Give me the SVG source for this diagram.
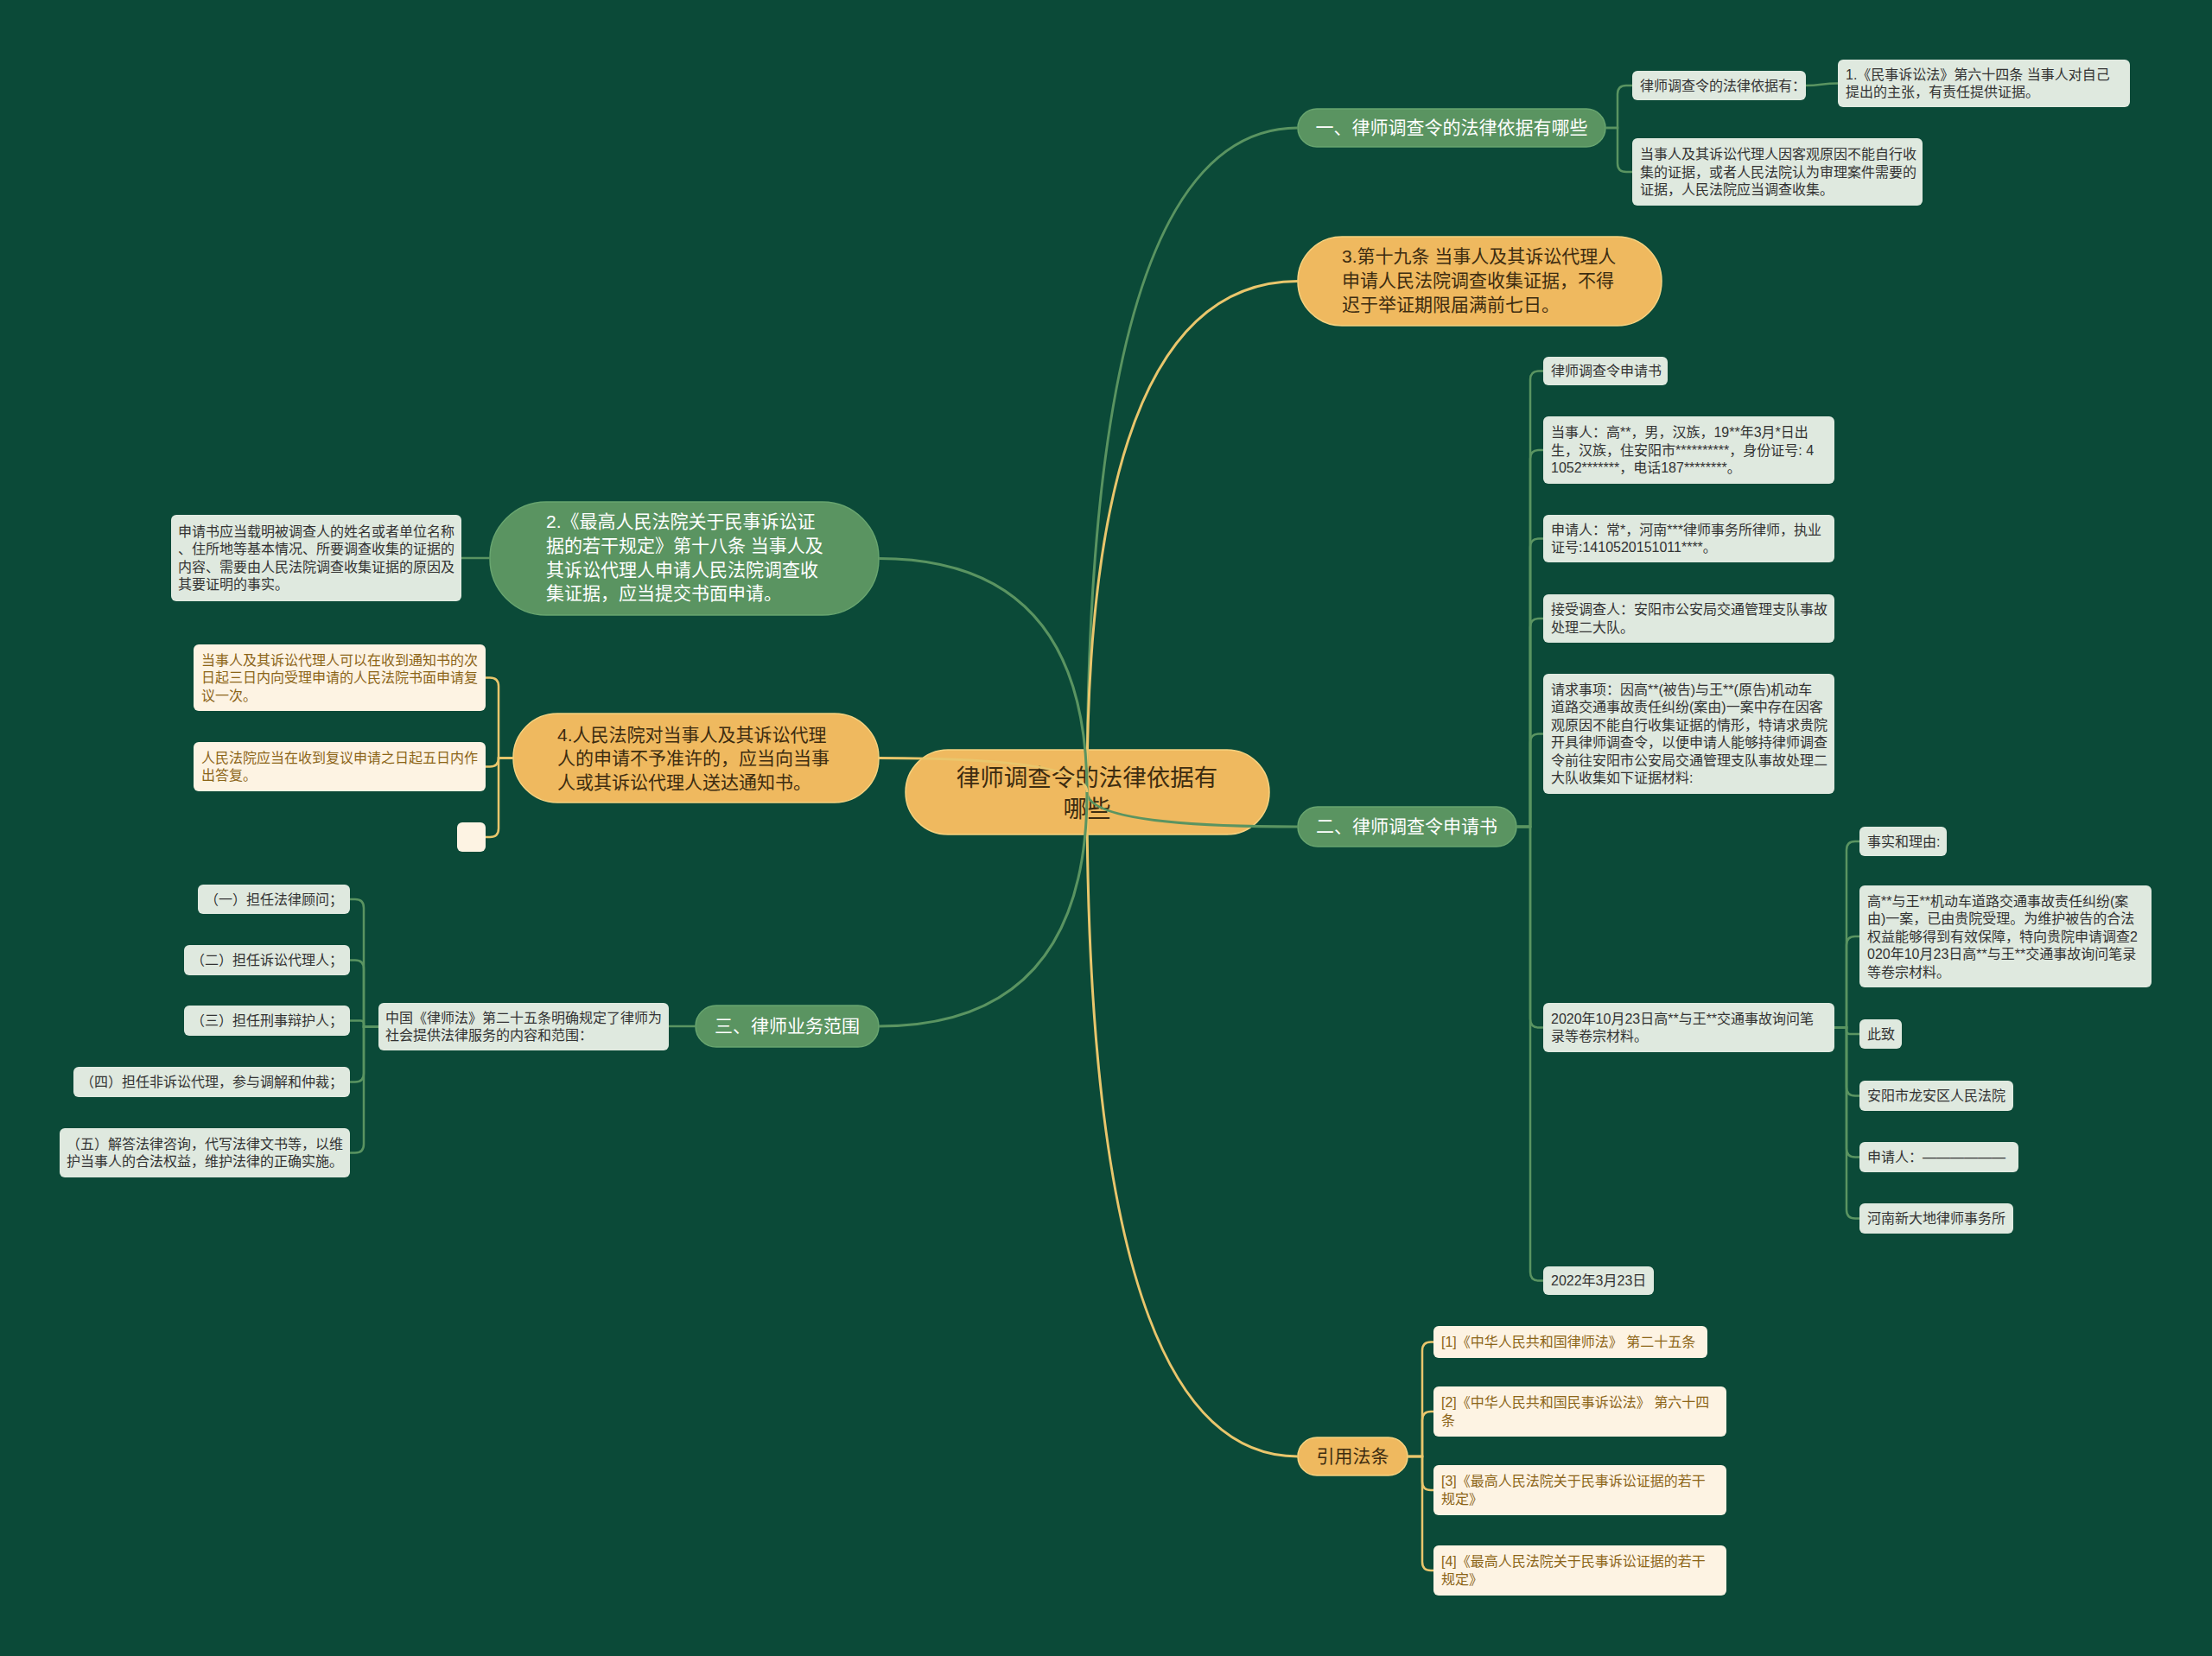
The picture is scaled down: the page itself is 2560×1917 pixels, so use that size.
<svg xmlns="http://www.w3.org/2000/svg" width="2560" height="1917" viewBox="0 0 2560 1917">
<style>
text{font-family:"Liberation Sans","Noto Sans CJK SC",sans-serif}
.bg{fill:#0b4a38}
.root{fill:#efb95f;stroke:#f6d27f;stroke-width:1.5}
.gp{fill:#5a9461;stroke:#68a56f;stroke-width:1.5}
.op{fill:#efb95f;stroke:#f6d27f;stroke-width:1.5}
.lb{fill:#dfe9df}
.cb{fill:#fdf3e3}
.tr{font-size:27.5px;fill:#3d2c10;text-anchor:middle}
.tw{font-size:21px;fill:#ffffff}
.to{font-size:21px;fill:#3d2c10}
.tl{font-size:16px;fill:#333333}
.tc{font-size:16px;fill:#8c6518}
.mid{text-anchor:middle}
.cg{fill:none;stroke:#5a9461;stroke-width:3}
.co{fill:none;stroke:#e9c66c;stroke-width:3}
.sg{fill:none;stroke:#5a9461;stroke-width:2.5}
.so{fill:none;stroke:#e9c66c;stroke-width:2.5}
</style>
<rect class="bg" x="0" y="0" width="2560" height="1917"/>
<g id="nodes">
<g id="root"><rect class="root" x="1048" y="868" width="421" height="98" rx="49"/><text class="tr" x="1258" y="910">律师调查令的法律依据有</text><text class="tr" x="1258" y="946">哪些</text></g>

<g id="b1"><rect class="gp" x="1502" y="126" width="356" height="44" rx="22"/><text class="tw mid" x="1680" y="155">一、律师调查令的法律依据有哪些</text></g>
<g id="a1"><rect class="lb" x="1889" y="82" width="201" height="34" rx="6"/><text class="tl" x="1898" y="104.5">律师调查令的法律依据有：</text></g>
<g id="a2"><rect class="lb" x="2127" y="69" width="338" height="55" rx="6"/><text class="tl" x="2136" y="92">1.《民事诉讼法》第六十四条 当事人对自己</text><text class="tl" x="2136" y="112">提出的主张，有责任提供证据。</text></g>
<g id="a3"><rect class="lb" x="1889" y="160" width="336" height="78" rx="6"/><text class="tl" x="1898" y="184">当事人及其诉讼代理人因客观原因不能自行收</text><text class="tl" x="1898" y="204.5">集的证据，或者人民法院认为审理案件需要的</text><text class="tl" x="1898" y="225">证据，人民法院应当调查收集。</text></g>

<g id="b3"><rect class="op" x="1502" y="274" width="421" height="103" rx="51"/><text class="to" x="1553" y="304">3.第十九条 当事人及其诉讼代理人</text><text class="to" x="1553" y="332">申请人民法院调查收集证据，不得</text><text class="to" x="1553" y="360">迟于举证期限届满前七日。</text></g>

<g id="b2"><rect class="gp" x="1502" y="934" width="253" height="46" rx="23"/><text class="tw mid" x="1628" y="964">二、律师调查令申请书</text></g>
<g id="c1"><rect class="lb" x="1786" y="413" width="144" height="33" rx="6"/><text class="tl" x="1795" y="435">律师调查令申请书</text></g>
<g id="c2"><rect class="lb" x="1786" y="482" width="337" height="78" rx="6"/><text class="tl" x="1795" y="506">当事人：高**，男，汉族，19**年3月*日出</text><text class="tl" x="1795" y="526.5">生，汉族，住安阳市**********，身份证号: 4</text><text class="tl" x="1795" y="547">1052*******，电话187********。</text></g>
<g id="c3"><rect class="lb" x="1786" y="596" width="337" height="55" rx="6"/><text class="tl" x="1795" y="619">申请人：常*，河南***律师事务所律师，执业</text><text class="tl" x="1795" y="639">证号:1410520151011****。</text></g>
<g id="c4"><rect class="lb" x="1786" y="688" width="337" height="56" rx="6"/><text class="tl" x="1795" y="711">接受调查人：安阳市公安局交通管理支队事故</text><text class="tl" x="1795" y="732">处理二大队。</text></g>
<g id="c5"><rect class="lb" x="1786" y="780" width="337" height="139" rx="6"/><text class="tl" x="1795" y="803.75">请求事项：因高**(被告)与王**(原告)机动车</text><text class="tl" x="1795" y="824.25">道路交通事故责任纠纷(案由)一案中存在因客</text><text class="tl" x="1795" y="844.75">观原因不能自行收集证据的情形，特请求贵院</text><text class="tl" x="1795" y="865.25">开具律师调查令，以便申请人能够持律师调查</text><text class="tl" x="1795" y="885.75">令前往安阳市公安局交通管理支队事故处理二</text><text class="tl" x="1795" y="906.25">大队收集如下证据材料:</text></g>
<g id="c6"><rect class="lb" x="1786" y="1161" width="337" height="57" rx="6"/><text class="tl" x="1795" y="1185">2020年10月23日高**与王**交通事故询问笔</text><text class="tl" x="1795" y="1205">录等卷宗材料。</text></g>
<g id="c7"><rect class="lb" x="1786" y="1466" width="128" height="33" rx="6"/><text class="tl" x="1795" y="1488">2022年3月23日</text></g>
<g id="d1"><rect class="lb" x="2152" y="957" width="101" height="34" rx="6"/><text class="tl" x="2161" y="979.5">事实和理由:</text></g>
<g id="d2"><rect class="lb" x="2152" y="1025" width="338" height="118" rx="6"/><text class="tl" x="2161" y="1048.5">高**与王**机动车道路交通事故责任纠纷(案</text><text class="tl" x="2161" y="1069">由)一案，已由贵院受理。为维护被告的合法</text><text class="tl" x="2161" y="1089.5">权益能够得到有效保障，特向贵院申请调查2</text><text class="tl" x="2161" y="1110">020年10月23日高**与王**交通事故询问笔录</text><text class="tl" x="2161" y="1130.5">等卷宗材料。</text></g>
<g id="d3"><rect class="lb" x="2152" y="1180" width="49" height="34" rx="6"/><text class="tl" x="2161" y="1202.5">此致</text></g>
<g id="d4"><rect class="lb" x="2152" y="1251" width="178" height="35" rx="6"/><text class="tl" x="2161" y="1274">安阳市龙安区人民法院</text></g>
<g id="d5"><rect class="lb" x="2152" y="1322" width="184" height="35" rx="6"/><text class="tl" x="2161" y="1345">申请人：——————</text></g>
<g id="d6"><rect class="lb" x="2152" y="1393" width="178" height="35" rx="6"/><text class="tl" x="2161" y="1416">河南新大地律师事务所</text></g>

<g id="b4"><rect class="op" x="1502" y="1664" width="127" height="44" rx="22"/><text class="to mid" x="1565.5" y="1693">引用法条</text></g>
<g id="e1"><rect class="cb" x="1659" y="1535" width="317" height="37" rx="6"/><text class="tc" x="1668" y="1559">[1]《中华人民共和国律师法》 第二十五条</text></g>
<g id="e2"><rect class="cb" x="1659" y="1605" width="339" height="58" rx="6"/><text class="tc" x="1668" y="1629">[2]《中华人民共和国民事诉讼法》 第六十四</text><text class="tc" x="1668" y="1650">条</text></g>
<g id="e3"><rect class="cb" x="1659" y="1696" width="339" height="58" rx="6"/><text class="tc" x="1668" y="1720">[3]《最高人民法院关于民事诉讼证据的若干</text><text class="tc" x="1668" y="1740.5">规定》</text></g>
<g id="e4"><rect class="cb" x="1659" y="1789" width="339" height="58" rx="6"/><text class="tc" x="1668" y="1813">[4]《最高人民法院关于民事诉讼证据的若干</text><text class="tc" x="1668" y="1833.5">规定》</text></g>

<g id="l2"><rect class="gp" x="567" y="581" width="450" height="131" rx="65"/><text class="tw" x="632" y="611">2.《最高人民法院关于民事诉讼证</text><text class="tw" x="632" y="639">据的若干规定》第十八条 当事人及</text><text class="tw" x="632" y="667">其诉讼代理人申请人民法院调查收</text><text class="tw" x="632" y="694">集证据，应当提交书面申请。</text></g>
<g id="f1"><rect class="lb" x="198" y="596" width="336" height="100" rx="6"/><text class="tl" x="206" y="620.75">申请书应当载明被调查人的姓名或者单位名称</text><text class="tl" x="206" y="641.25">、住所地等基本情况、所要调查收集的证据的</text><text class="tl" x="206" y="661.75">内容、需要由人民法院调查收集证据的原因及</text><text class="tl" x="206" y="682.25">其要证明的事实。</text></g>

<g id="l4"><rect class="op" x="594" y="826" width="423" height="103" rx="51"/><text class="to" x="645" y="858">4.人民法院对当事人及其诉讼代理</text><text class="to" x="645" y="885">人的申请不予准许的，应当向当事</text><text class="to" x="645" y="913">人或其诉讼代理人送达通知书。</text></g>
<g id="g1"><rect class="cb" x="224" y="746" width="338" height="77" rx="6"/><text class="tc" x="233" y="769.5">当事人及其诉讼代理人可以在收到通知书的次</text><text class="tc" x="233" y="790">日起三日内向受理申请的人民法院书面申请复</text><text class="tc" x="233" y="810.5">议一次。</text></g>
<g id="g2"><rect class="cb" x="224" y="859" width="338" height="57" rx="6"/><text class="tc" x="233" y="883">人民法院应当在收到复议申请之日起五日内作</text><text class="tc" x="233" y="903">出答复。</text></g>
<g id="g3"><rect class="cb" x="529" y="952" width="33" height="34" rx="6"/></g>

<g id="l3"><rect class="gp" x="805" y="1164" width="212" height="48" rx="24"/><text class="tw mid" x="911" y="1195">三、律师业务范围</text></g>
<g id="h0"><rect class="lb" x="438" y="1161" width="336" height="55" rx="6"/><text class="tl" x="446" y="1184">中国《律师法》第二十五条明确规定了律师为</text><text class="tl" x="446" y="1204">社会提供法律服务的内容和范围：</text></g>
<g id="h1"><rect class="lb" x="229" y="1024" width="176" height="34" rx="6"/><text class="tl" x="237" y="1046.5">（一）担任法律顾问；</text></g>
<g id="h2"><rect class="lb" x="213" y="1094" width="192" height="35" rx="6"/><text class="tl" x="221" y="1117">（二）担任诉讼代理人；</text></g>
<g id="h3"><rect class="lb" x="213" y="1164" width="192" height="35" rx="6"/><text class="tl" x="221" y="1187">（三）担任刑事辩护人；</text></g>
<g id="h4"><rect class="lb" x="85" y="1235" width="320" height="35" rx="6"/><text class="tl" x="93" y="1258">（四）担任非诉讼代理，参与调解和仲裁；</text></g>
<g id="h5"><rect class="lb" x="69" y="1306" width="336" height="57" rx="6"/><text class="tl" x="77" y="1330">（五）解答法律咨询，代写法律文书等，以维</text><text class="tl" x="77" y="1350">护当事人的合法权益，维护法律的正确实施。</text></g>
</g>

<g id="connectors">
<path class="cg" d="M1258 917 Q1258 148 1502 148"/>
<path class="co" d="M1258 917 Q1258 325.5 1502 325.5"/>
<path class="cg" d="M1258 917 Q1258 957 1502 957"/>
<path class="co" d="M1258 917 Q1258 1686 1502 1686"/>
<path class="cg" d="M1258 917 Q1258 646.5 1017 646.5"/>
<path class="co" d="M1258 917 Q1258 877.5 1017 877.5"/>
<path class="cg" d="M1258 917 Q1258 1188 1017 1188"/>

<path class="sg" d="M1858 148 H1872 V109 Q1872 99 1882 99 H1889"/>
<path class="sg" d="M1858 148 H1872 V189 Q1872 199 1882 199 H1889"/>
<path class="sg" d="M2090 99 C2108 99 2108 96.5 2127 96.5"/>

<path class="sg" d="M1755 957 H1771 V439.5 Q1771 429.5 1781 429.5 H1786"/>
<path class="sg" d="M1755 957 H1771 V531 Q1771 521 1781 521 H1786"/>
<path class="sg" d="M1755 957 H1771 V633.5 Q1771 623.5 1781 623.5 H1786"/>
<path class="sg" d="M1755 957 H1771 V726 Q1771 716 1781 716 H1786"/>
<path class="sg" d="M1755 957 H1771 V859.5 Q1771 849.5 1781 849.5 H1786"/>
<path class="sg" d="M1755 957 H1771 V1179.5 Q1771 1189.5 1781 1189.5 H1786"/>
<path class="sg" d="M1755 957 H1771 V1472.5 Q1771 1482.5 1781 1482.5 H1786"/>

<path class="sg" d="M2123 1189.5 H2137 V984 Q2137 974 2147 974 H2152"/>
<path class="sg" d="M2123 1189.5 H2137 V1094 Q2137 1084 2147 1084 H2152"/>
<path class="sg" d="M2123 1189.5 H2137 V1193 Q2137 1197 2141 1197 H2152"/>
<path class="sg" d="M2123 1189.5 H2137 V1258.5 Q2137 1268.5 2147 1268.5 H2152"/>
<path class="sg" d="M2123 1189.5 H2137 V1329.5 Q2137 1339.5 2147 1339.5 H2152"/>
<path class="sg" d="M2123 1189.5 H2137 V1400.5 Q2137 1410.5 2147 1410.5 H2152"/>

<path class="so" d="M1629 1686 H1646 V1563.5 Q1646 1553.5 1656 1553.5 H1659"/>
<path class="so" d="M1629 1686 H1646 V1644 Q1646 1634 1656 1634 H1659"/>
<path class="so" d="M1629 1686 H1646 V1715 Q1646 1725 1656 1725 H1659"/>
<path class="so" d="M1629 1686 H1646 V1808 Q1646 1818 1656 1818 H1659"/>

<path class="sg" d="M534 646 H567"/>

<path class="so" d="M594 877.5 H577 V794.5 Q577 784.5 567 784.5 H562"/>
<path class="so" d="M594 877.5 H577 V877.5 Q577 887.5 567 887.5 H562"/>
<path class="so" d="M594 877.5 H577 V959 Q577 969 567 969 H562"/>

<path class="sg" d="M805 1188 H774"/>

<path class="sg" d="M438 1188.5 H421 V1051 Q421 1041 411 1041 H405"/>
<path class="sg" d="M438 1188.5 H421 V1121.5 Q421 1111.5 411 1111.5 H405"/>
<path class="sg" d="M438 1188.5 H421 V1185 Q421 1181.5 417 1181.5 H405"/>
<path class="sg" d="M438 1188.5 H421 V1242.5 Q421 1252.5 411 1252.5 H405"/>
<path class="sg" d="M438 1188.5 H421 V1324.5 Q421 1334.5 411 1334.5 H405"/>
</g>
</svg>
